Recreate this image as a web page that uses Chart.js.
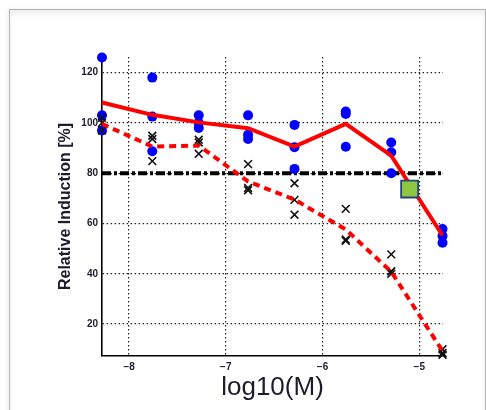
<!DOCTYPE html>
<html>
<head>
<meta charset="utf-8">
<script src="https://cdn.jsdelivr.net/npm/chart.js@4"></script>
<style>
  html, body { margin: 0; padding: 0; background: #fff; }
  #frame {
    position: absolute; left: 9px; top: 9px; width: 475px; height: 420px;
    border: 1px solid #b4b4b4;
    box-shadow: inset 0 4px 5px rgba(0,0,0,0.07), -2px 0 4px rgba(0,0,0,0.06);
  }
  #myChart { position: absolute; left: 0; top: 0; }
</style>
</head>
<body>
<div id="frame"></div>
<canvas id="myChart" width="486" height="410"></canvas>
<script>
// concentrations, log10(M)
var xVals = [-8.28, -7.76, -7.28, -6.77, -6.29, -5.76, -5.29, -4.76];

// replicate measurements (blue dots)
var blueA = [126, 118, 103, 103, 99.2, 104.5, 92.2, 57.8];
var blueB = [103, 102.5, 100, 95.3, 90.3, 103.5, 88.3, 55];
var blueC = [97, 88.7, 98, 93.6, 81.7, 90.5, 80, 52.3];
var blueMean = [108.1, 103.2, 100.2, 97.9, 90.6, 99.6, 87, 55.2];

// replicate measurements (black crosses)
var crossA = [102, 94.9, 93.3, 83.6, 76, 65.8, 47.7, 10];
var crossB = [100, 93.6, 92.2, 74.1, 69.4, 53.6, 41, 8.5];
var crossC = [97, 84.8, 87.7, 73.2, 63.5, 53.1, 40, 7.8];
var crossMean = [99.6, 90.6, 91, 76.7, 69.5, 57.6, 40.8, 9.3];

// 80% threshold and the marked crossing
var thrX = [-8.28, -4.76];
var thrY = [80, 80];
var markX = [-5.1];
var markY = [73.7];

var xTicks = [-8, -7, -6, -5];
var xTickLabels = ['\u22128', '\u22127', '\u22126', '\u22125'];
var yTicks = [20, 40, 60, 80, 100, 120];

var textColor = '#1c1c2c';
var fontFam = "'Liberation Sans', Arial, sans-serif";

function toPoints(xs, ys) {
    var pts = [];
    for (var i = 0; i < xs.length; i++) {
        pts.push({x: xs[i], y: ys[i]});
    }
    return pts;
}

function replicates(list) {
    var pts = [];
    for (var k = 0; k < list.length; k++) {
        pts = pts.concat(toPoints(xVals, list[k]));
    }
    return pts;
}

function renderChart() {
    var ctx = document.getElementById("myChart").getContext('2d');
    var myChart = new Chart(ctx, {
        type: 'scatter',
        data: {
            datasets: [{
                label: 'threshold',
                data: toPoints(thrX, thrY),
                showLine: true,
                borderColor: '#000',
                borderWidth: 4,
                borderDash: [9, 3, 3, 3],
                pointRadius: 0,
                order: 6
            }, {
                label: 'blue',
                data: replicates([blueA, blueB, blueC]),
                backgroundColor: '#0000ff',
                borderWidth: 0,
                pointRadius: 5,
                order: 5
            }, {
                label: 'crosses',
                data: replicates([crossA, crossB, crossC]),
                pointStyle: 'crossRot',
                borderColor: '#111',
                borderWidth: 1.6,
                pointRadius: 5.5,
                order: 4
            }, {
                label: 'cross mean',
                data: toPoints(xVals, crossMean),
                showLine: true,
                borderColor: '#ff0000',
                borderWidth: 4,
                borderDash: [7, 5],
                pointRadius: 0,
                order: 3
            }, {
                label: 'blue mean',
                data: toPoints(xVals, blueMean),
                showLine: true,
                borderColor: '#ff0000',
                borderWidth: 4,
                pointRadius: 0,
                order: 2
            }, {
                label: 'mark',
                data: toPoints(markX, markY),
                pointStyle: 'rect',
                backgroundColor: '#8dc641',
                borderColor: '#24447a',
                borderWidth: 1.8,
                pointRadius: 12,
                order: 1
            }]
        },
        options: {
            responsive: false,
            animation: false,
            datasets: {scatter: {clip: false}},
            layout: {padding: {top: 57, right: 43, left: 0, bottom: 0}},
            plugins: {legend: {display: false}, tooltip: {enabled: false}},
            scales: {
                x: {
                    type: 'linear',
                    min: -8.28,
                    max: -4.755,
                    afterBuildTicks: function (scale) {
                        scale.ticks = xTicks.map(function (v) { return {value: v}; });
                    },
                    afterFit: function (scale) { scale.height = 54; },
                    grid: {color: '#222', lineWidth: 1.2, drawTicks: false},
                    border: {color: '#000', width: 1.6, dash: [1.5, 2.5]},
                    ticks: {
                        padding: 5,
                        color: textColor,
                        font: {family: fontFam, size: 10, weight: 'bold'},
                        callback: function (value) { return xTickLabels[xTicks.indexOf(value)]; }
                    },
                    title: {
                        display: true,
                        text: 'log10(M)',
                        color: textColor,
                        font: {family: fontFam, size: 26},
                        padding: {top: 0, bottom: 7}
                    }
                },
                y: {
                    min: 7.3,
                    max: 126.2,
                    afterBuildTicks: function (scale) {
                        scale.ticks = yTicks.map(function (v) { return {value: v}; });
                    },
                    afterFit: function (scale) { scale.width = 102; },
                    grid: {color: '#222', lineWidth: 1.2, drawTicks: false},
                    border: {color: '#000', width: 1.6, dash: [1.5, 2.5]},
                    ticks: {
                        padding: 4,
                        color: textColor,
                        font: {family: fontFam, size: 10, weight: 'bold'}
                    },
                    title: {
                        display: true,
                        text: 'Relative Induction [%]',
                        color: textColor,
                        font: {family: fontFam, size: 16, weight: 'bold'},
                        padding: {top: 56, bottom: 0}
                    }
                }
            }
        }
    });
}

document.addEventListener("DOMContentLoaded", renderChart);
</script>
</body>
</html>
